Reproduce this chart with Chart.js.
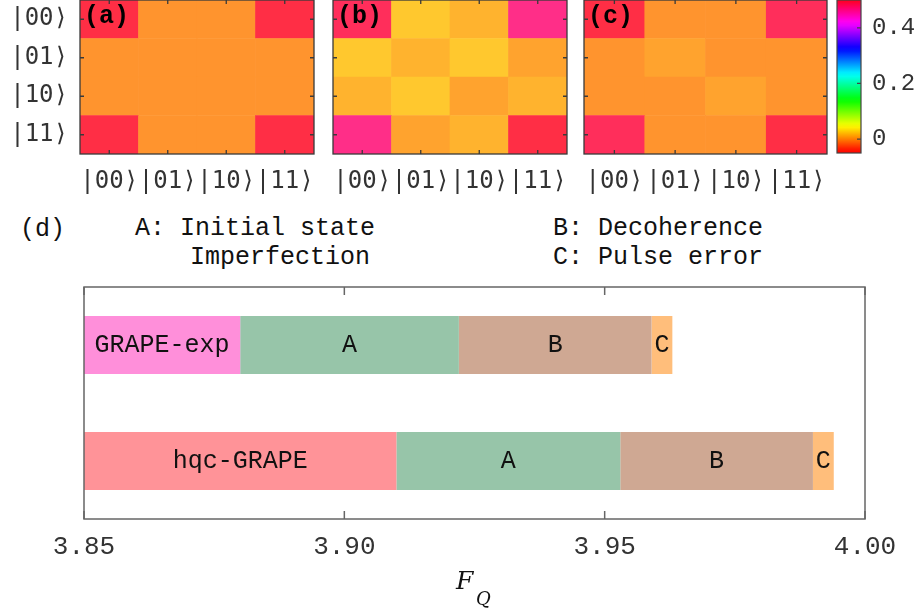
<!DOCTYPE html>
<html>
<head>
<meta charset="utf-8">
<script src="https://cdn.jsdelivr.net/npm/chart.js@4.4.1/dist/chart.umd.min.js"></script>
<style>
  body { margin: 0; background: #fff; }
  #page { position: relative; width: 920px; height: 615px; overflow: hidden; background: #fff; }
  .box { position: absolute; }
  .note { position: absolute; font-family: 'Liberation Mono', monospace; font-size: 25px; line-height: 25px; color: #111; white-space: pre; }
  .fq { position: absolute; font-family: 'DejaVu Serif', serif; font-style: italic; color: #111; line-height: 1; }
</style>
</head>
<body>
<div id="page">
  <div class="box" style="left:0;top:0;width:318px;height:200px"><canvas id="heatA"></canvas></div>
  <div class="box" style="left:330px;top:0;width:240px;height:200px"><canvas id="heatB"></canvas></div>
  <div class="box" style="left:580px;top:0;width:250px;height:200px"><canvas id="heatC"></canvas></div>
  <div class="box" style="left:830px;top:0;width:90px;height:200px"><canvas id="cbar"></canvas></div>

  <div class="note" style="left:20px;top:217px">(d)</div>
  <div class="note" style="left:135px;top:216px">A: Initial state</div>
  <div class="note" style="left:190px;top:245px">Imperfection</div>
  <div class="note" style="left:553px;top:216px">B: Decoherence</div>
  <div class="note" style="left:553px;top:245px">C: Pulse error</div>

  <div class="box" style="left:0;top:270px;width:920px;height:345px"><canvas id="errBars"></canvas></div>

  <div class="fq" style="left:456px;top:568px;font-size:25px">F</div>
  <div class="fq" style="left:476px;top:590px;font-size:18px">Q</div>
</div>

<script>
// --- data ---
const basis = ['|00⟩', '|01⟩', '|10⟩', '|11⟩'];

// density matrices, rows |00>..|11>
const rhoIdeal = [
    [0.50, 0, 0, 0.50],
    [0, 0, 0, 0],
    [0, 0, 0, 0],
    [0.50, 0, 0, 0.50]
];
const rhoExp = [
    [0.49, 0.023, 0.014, 0.47],
    [0.023, 0.014, 0.023, 0.007],
    [0.014, 0.023, 0.007, 0.014],
    [0.47, 0.007, 0.014, 0.50]
];
const rhoSim = [
    [0.50, 0, 0, 0.49],
    [0, 0.007, 0, 0],
    [0, 0, 0.007, 0],
    [0.49, 0, 0, 0.50]
];

const cbarMin = -0.05;
const cbarMax = 0.5;
const cbarTicks = [0, 0.2, 0.4];

const methods = ['GRAPE-exp', 'hqc-GRAPE'];
const fidelity = [3.880, 3.910];
const lossA = [0.042, 0.043];
const lossB = [0.037, 0.037];
const lossC = [0.004, 0.004];
const segNames = ['A', 'B', 'C'];
const fqTicks = [3.85, 3.90, 3.95, 4.00];

// --- colour map (hue wheel, red -> yellow -> green -> blue -> magenta -> red) ---
const cmapMin = -0.045;
const cmapMax = 0.51;
function cmap(v, alpha) {
    let h = (v - cmapMin) / (cmapMax - cmapMin) * 360;
    h = Math.min(Math.max(h, 0), 360);
    const f = (n) => {
        const k = (n + h / 60) % 6;
        return 255 * (1 - Math.max(0, Math.min(k, 4 - k, 1)));
    };
    const mix = (c) => Math.round(c * alpha + 255 * (1 - alpha));
    return 'rgb(' + mix(f(5)) + ',' + mix(f(3)) + ',' + mix(f(1)) + ')';
}

// frame, inward ticks and panel tag for the heat maps
const heatFrame = {
    id: 'heatFrame',
    afterDraw(chart, args, opts) {
        const ctx = chart.ctx;
        const a = chart.chartArea;
        ctx.save();
        ctx.strokeStyle = '#3a3a3a';
        ctx.lineWidth = 1.3;
        ctx.strokeRect(a.left, a.top, a.right - a.left, a.bottom - a.top);
        ctx.beginPath();
        for (let i = 0; i < basis.length; i++) {
            const px = chart.scales.x.getPixelForValue(i);
            ctx.moveTo(px, a.bottom); ctx.lineTo(px, a.bottom - 4);
            ctx.moveTo(px, a.top); ctx.lineTo(px, a.top + 4);
            const py = chart.scales.y.getPixelForValue(i + 0.5);
            ctx.moveTo(a.left, py); ctx.lineTo(a.left + 4, py);
            ctx.moveTo(a.right, py); ctx.lineTo(a.right - 4, py);
        }
        ctx.stroke();
        ctx.fillStyle = '#000';
        ctx.font = 'bold 25px "Liberation Mono"';
        ctx.textAlign = 'left';
        ctx.textBaseline = 'middle';
        ctx.fillText(opts.tag, a.left + 4, a.top + 17);
        ctx.restore();
    }
};

function heatChart(id, rho, tag, showY, padLeft, padRight) {
    let datasets = [];
    for (let r = basis.length - 1; r >= 0; r--) {
        datasets.push({
            label: basis[r],
            data: basis.map(() => 1),
            backgroundColor: rho[r].map((v) => cmap(v, 0.82)),
            borderWidth: 0,
            barPercentage: 1,
            categoryPercentage: 1
        });
    }
    return new Chart(document.getElementById(id), {
        type: 'bar',
        data: { labels: basis, datasets: datasets },
        options: {
            responsive: true,
            maintainAspectRatio: false,
            animation: false,
            layout: { padding: { left: padLeft, right: padRight, top: 0, bottom: 0 } },
            plugins: {
                legend: { display: false },
                tooltip: { enabled: false },
                heatFrame: { tag: tag }
            },
            scales: {
                x: {
                    stacked: true,
                    grid: { display: false, drawTicks: false },
                    border: { display: false },
                    ticks: {
                        padding: 13,
                        color: '#333',
                        font: { family: 'DejaVu Sans Mono', size: 24 },
                        maxRotation: 0,
                        autoSkip: false
                    },
                    afterFit: (s) => { s.height = 46; s.paddingLeft = 0; s.paddingRight = 0; }
                },
                y: {
                    display: showY,
                    stacked: true,
                    min: 0,
                    max: 4,
                    grid: { display: false, drawTicks: false },
                    border: { display: false },
                    afterBuildTicks: (s) => { s.ticks = [0.5, 1.5, 2.5, 3.5].map((v) => ({ value: v })); },
                    ticks: {
                        padding: 12,
                        color: '#333',
                        font: { family: 'DejaVu Sans Mono', size: 24 },
                        callback: (v) => basis[3 - Math.floor(v)]
                    },
                    afterFit: (s) => { s.width = showY ? 80 : 0; s.paddingTop = 0; s.paddingBottom = 0; }
                }
            }
        },
        plugins: [heatFrame]
    });
}

heatChart('heatA', rhoIdeal, '(a)', true, 0, 4);
heatChart('heatB', rhoExp, '(b)', false, 3, 3);
heatChart('heatC', rhoSim, '(c)', false, 4, 3);

// --- colour bar ---
const cbarFrame = {
    id: 'cbarFrame',
    afterDraw(chart) {
        const ctx = chart.ctx;
        const a = chart.chartArea;
        ctx.save();
        ctx.strokeStyle = '#444';
        ctx.lineWidth = 1.2;
        ctx.strokeRect(a.left, a.top, a.right - a.left, a.bottom - a.top);
        ctx.beginPath();
        cbarTicks.forEach((v) => {
            const py = chart.scales.y.getPixelForValue(v);
            ctx.moveTo(a.right, py); ctx.lineTo(a.right - 4, py);
        });
        ctx.stroke();
        ctx.restore();
    }
};

new Chart(document.getElementById('cbar'), {
    type: 'bar',
    data: {
        labels: [''],
        datasets: [{
            data: [[cbarMin, cbarMax]],
            backgroundColor: (c) => {
                const a = c.chart.chartArea;
                if (!a) return 'transparent';
                const g = c.chart.ctx.createLinearGradient(0, a.bottom, 0, a.top);
                for (let i = 0; i <= 36; i++) {
                    g.addColorStop(i / 36, cmap(cbarMin + (cbarMax - cbarMin) * i / 36, 1));
                }
                return g;
            },
            borderWidth: 0,
            barPercentage: 1,
            categoryPercentage: 1
        }]
    },
    options: {
        responsive: true,
        maintainAspectRatio: false,
        animation: false,
        layout: { padding: { left: 7, right: 0, top: 0, bottom: 47 } },
        plugins: { legend: { display: false }, tooltip: { enabled: false } },
        scales: {
            x: { display: false },
            y: {
                position: 'right',
                min: cbarMin,
                max: cbarMax,
                grid: { display: false, drawTicks: false },
                border: { display: false },
                afterBuildTicks: (s) => { s.ticks = cbarTicks.map((v) => ({ value: v })); },
                ticks: {
                    padding: 11,
                    color: '#333',
                    font: { family: 'Liberation Mono', size: 24 },
                    callback: (v) => (v === 0 ? '0' : v.toFixed(1))
                },
                afterFit: (s) => { s.width = 59; s.paddingTop = 0; s.paddingBottom = 0; }
            }
        }
    },
    plugins: [cbarFrame]
});

// --- stacked error budget bars ---
const boxFrame = {
    id: 'boxFrame',
    afterDraw(chart) {
        const ctx = chart.ctx;
        const a = chart.chartArea;
        ctx.save();
        ctx.strokeStyle = '#666';
        ctx.lineWidth = 1.5;
        ctx.strokeRect(a.left, a.top, a.right - a.left, a.bottom - a.top);
        ctx.beginPath();
        fqTicks.forEach((v) => {
            const px = chart.scales.x.getPixelForValue(v);
            ctx.moveTo(px, a.top); ctx.lineTo(px, a.top + 8);
            ctx.moveTo(px, a.bottom); ctx.lineTo(px, a.bottom - 8);
        });
        ctx.stroke();
        ctx.restore();
    }
};

const barText = {
    id: 'barText',
    afterDatasetsDraw(chart) {
        const ctx = chart.ctx;
        const a = chart.chartArea;
        ctx.save();
        ctx.font = '25px "Liberation Mono"';
        ctx.fillStyle = '#111';
        ctx.textAlign = 'center';
        ctx.textBaseline = 'middle';
        chart.data.datasets.forEach((ds, di) => {
            chart.getDatasetMeta(di).data.forEach((bar, i) => {
                const l = Math.max(Math.min(bar.x, bar.base), a.left);
                const r = Math.min(Math.max(bar.x, bar.base), a.right);
                const text = di === 0 ? chart.data.labels[i] : ds.label;
                ctx.fillText(text, (l + r) / 2, bar.y);
            });
        });
        ctx.restore();
    }
};

new Chart(document.getElementById('errBars'), {
    type: 'bar',
    data: {
        labels: methods,
        datasets: [{
            label: 'F',
            data: fidelity,
            backgroundColor: ['#FF8FDA', '#FF9398']
        },
        {
            label: segNames[0],
            data: lossA,
            backgroundColor: '#97C5A9'
        },
        {
            label: segNames[1],
            data: lossB,
            backgroundColor: '#CFA893'
        },
        {
            label: segNames[2],
            data: lossC,
            backgroundColor: '#FFBE7B'
        }]
    },
    options: {
        indexAxis: 'y',
        responsive: true,
        maintainAspectRatio: false,
        animation: false,
        datasets: { bar: { categoryPercentage: 0.5, barPercentage: 1, borderWidth: 0 } },
        layout: { padding: { left: 84, right: 55, top: 17, bottom: 0 } },
        plugins: { legend: { display: false }, tooltip: { enabled: false } },
        scales: {
            x: {
                stacked: true,
                min: 3.85,
                max: 4.00,
                grid: { display: false, drawTicks: false },
                border: { display: false },
                afterBuildTicks: (s) => { s.ticks = fqTicks.map((v) => ({ value: v })); },
                ticks: {
                    padding: 13,
                    color: '#333',
                    font: { family: 'Liberation Mono', size: 26 },
                    maxRotation: 0,
                    autoSkip: false,
                    callback: (v) => v.toFixed(2)
                },
                afterFit: (s) => { s.height = 96; }
            },
            y: {
                stacked: true,
                display: false
            }
        }
    },
    plugins: [boxFrame, barText]
});
</script>
</body>
</html>
